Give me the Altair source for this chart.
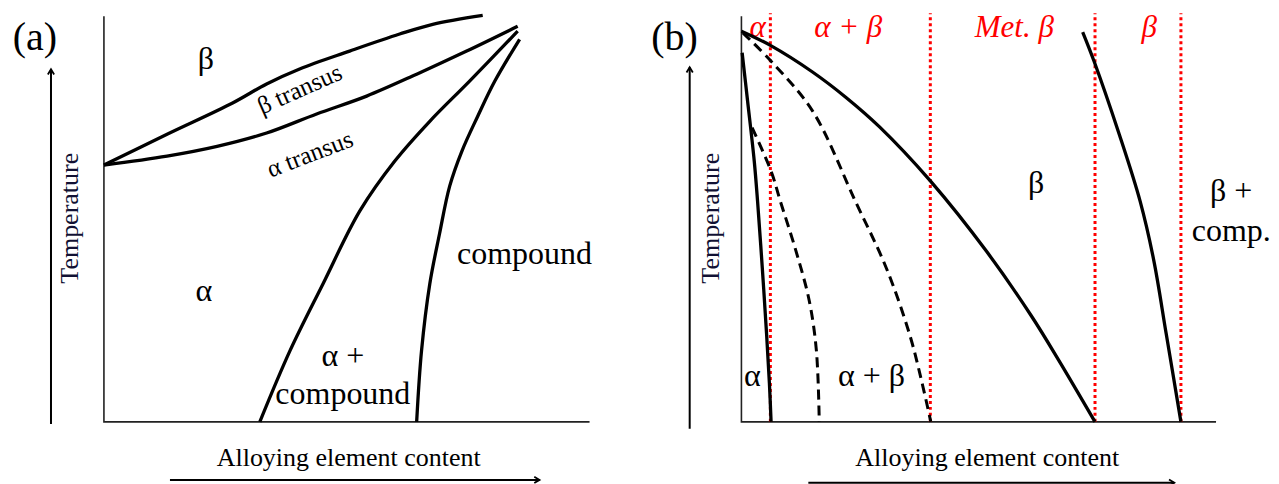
import altair as alt
import pandas as pd

FONT = "Liberation Serif"

# ---------------- Panel (a) data (content 0-100, temperature 0-100) ----------
a_beta_x = [0, 13.0, 26.5, 33.5, 40.3, 50.6, 60.9, 67.7, 78.0]
a_beta_t = [63.3, 70.9, 78.6, 83.3, 87.0, 91.4, 95.6, 98.0, 100.2]
a_alpha_x = [0, 13.0, 23.3, 33.5, 43.8, 54.1, 64.4, 74.7, 85.2]
a_alpha_t = [63.3, 65.5, 67.9, 71.2, 75.9, 80.3, 85.7, 91.4, 97.5]
a_solvus_x = [32.1, 38.3, 45.1, 52.7, 59.9, 67.1, 75.3, 85.2]
a_solvus_t = [0, 17.5, 34.0, 52.0, 64.3, 74.1, 84.0, 96.3]
a_comp_x = [64.4, 65.4, 67.1, 69.1, 71.2, 73.7, 77.0, 80.5, 85.6]
a_comp_t = [0, 17.5, 34.0, 46.3, 58.1, 66.7, 75.4, 84.0, 94.3]

a_labels = ["β", "α", "compound", "α +", "compound"]
a_label_x = [21.0, 20.6, 86.6, 49.2, 49.2]
a_label_t = [89.4, 32.3, 41.4, 16.3, 6.9]

# ---------------- Panel (b) data ---------------------------------------------
b_main_x = [0, 6.1, 14.9, 22.1, 29.1, 39.8, 51.6, 61.1, 66.9, 74.5]
b_main_t = [96.3, 92.8, 86.3, 79.9, 72.7, 59.4, 42.1, 26.1, 15.1, 0]
b_alpha_x = [0.15, 1.3, 2.7, 3.4, 4.4, 5.3, 5.9, 6.25]
b_alpha_t = [91.0, 79.1, 64.3, 54.4, 37.9, 21.7, 9.4, 0]
b_right_x = [71.9, 74.3, 79.6, 84.0, 86.9, 89.5, 92.6]
b_right_t = [96.1, 88.9, 70.9, 54.4, 39.7, 21.7, 0]
b_dash1_x = [2.25, 6.25, 8.2, 11.5, 14.3, 15.8, 16.4]
b_dash1_t = [72.5, 61.8, 54.4, 42.1, 29.8, 17.5, 0]
b_dash2_x = [0.3, 6.25, 15.0, 24.0, 30.5, 35.4, 38.1, 39.9]
b_dash2_t = [95.9, 88.9, 76.6, 54.4, 38.0, 21.7, 9.4, 0]

b_red_x = [6.1, 39.8, 74.5, 92.6]
b_red_labels = ["α", "α + β", "Met. β", "β"]
b_red_label_x = [3.4, 22.5, 57.5, 85.9]

b_labels = ["α", "α + β", "β", "β +", "comp."]
b_label_x = [2.3, 27.4, 62.1, 103.2, 103.2]
b_label_t = [11.3, 11.3, 58.9, 56.9, 47.0]


def curves_df(curves):
    rows = []
    for name, xs, ts in curves:
        for i, (x, t) in enumerate(zip(xs, ts)):
            rows.append({"curve": name, "x": x, "t": t, "i": i})
    return pd.DataFrame(rows)


def make_panel(xdom, tdom, solid, dashed, labels, panel_tag, tag_x,
               temp_arrow_x, temp_arrow_t, temp_title_x, alloy_arrow_t,
               alloy_arrow_x, alloy_title_x, extra_layers):
    X = lambda f="x": alt.X(f"{f}:Q", scale=alt.Scale(domain=xdom, nice=False, zero=False), axis=None)
    Y = lambda f="t": alt.Y(f"{f}:Q", scale=alt.Scale(domain=tdom, nice=False, zero=False), axis=None)

    frame = alt.Chart(pd.DataFrame({"x": [0, 0, 100], "t": [100, 0, 0], "i": [0, 1, 2]})).mark_line(
        color="#222222", strokeWidth=1.6).encode(x=X(), y=Y(), order="i:Q")

    layers = [frame]
    layers += extra_layers(X, Y)

    layers.append(alt.Chart(curves_df(solid)).mark_line(
        color="black", strokeWidth=3.3, interpolate="catmull-rom").encode(
        x=X(), y=Y(), detail="curve:N", order="i:Q"))
    if dashed:
        layers.append(alt.Chart(curves_df(dashed)).mark_line(
            color="black", strokeWidth=3, strokeDash=[10, 6], interpolate="catmull-rom").encode(
            x=X(), y=Y(), detail="curve:N", order="i:Q"))

    # arrows
    arrows = curves_df([
        ("temp", [temp_arrow_x, temp_arrow_x], temp_arrow_t),
        ("alloy", alloy_arrow_x, [alloy_arrow_t, alloy_arrow_t]),
    ])
    layers.append(alt.Chart(arrows).mark_line(color="black", strokeWidth=2).encode(
        x=X(), y=Y(), detail="curve:N", order="i:Q"))
    layers.append(alt.Chart(pd.DataFrame({"x": [temp_arrow_x], "t": [temp_arrow_t[1]]})).mark_point(
        shape="M -0.6 1 L 0 0 L 0.6 1", size=110, filled=False, color="black", strokeWidth=1.8, opacity=1
    ).encode(x=X(), y=Y()))
    layers.append(alt.Chart(pd.DataFrame({"x": [alloy_arrow_x[1]], "t": [alloy_arrow_t]})).mark_point(
        shape="M -1 -0.6 L 0 0 L -1 0.6", size=110, filled=False, color="black", strokeWidth=1.8, opacity=1
    ).encode(x=X(), y=Y()))

    # axis titles
    layers.append(alt.Chart(pd.DataFrame({"x": [temp_title_x], "t": [50.2], "s": ["Temperature"]})).mark_text(
        font=FONT, fontSize=26, angle=270, color="#111133", baseline="middle", align="center"
    ).encode(x=X(), y=Y(), text="s:N"))
    layers.append(alt.Chart(pd.DataFrame({"x": [alloy_title_x], "t": [-8.9], "s": ["Alloying element content"]})).mark_text(
        font=FONT, fontSize=26, color="black", baseline="middle", align="center"
    ).encode(x=X(), y=Y(), text="s:N"))

    # panel tag
    layers.append(alt.Chart(pd.DataFrame({"x": [tag_x], "t": [94.6], "s": [panel_tag]})).mark_text(
        font=FONT, fontSize=40, color="black", baseline="middle", align="center"
    ).encode(x=X(), y=Y(), text="s:N"))

    # region labels
    layers.append(alt.Chart(pd.DataFrame(labels)).mark_text(
        font=FONT, fontSize=32, color="black", baseline="middle", align="center"
    ).encode(x=X(), y=Y(), text="s:N"))

    return alt.layer(*layers).properties(width=631, height=476)


def extra_a(X, Y):
    return [
        alt.Chart(pd.DataFrame({"x": [40.3], "t": [82.0], "s": ["β transus"]})).mark_text(
            font=FONT, fontSize=25, angle=336, baseline="middle", align="center", color="black"
        ).encode(x=X(), y=Y(), text="s:N"),
        alt.Chart(pd.DataFrame({"x": [42.4], "t": [66.0], "s": ["α transus"]})).mark_text(
            font=FONT, fontSize=25, angle=339, baseline="middle", align="center", color="black"
        ).encode(x=X(), y=Y(), text="s:N"),
    ]


def extra_b(X, Y):
    red = pd.DataFrame({"x": b_red_x, "t0": [0] * len(b_red_x), "t1": [100.7] * len(b_red_x)})
    return [
        alt.Chart(red).mark_rule(color="#ff0000", strokeWidth=3, strokeDash=[3, 3]).encode(
            x=X(), y=Y("t0"), y2="t1:Q"),
        alt.Chart(pd.DataFrame({"x": b_red_label_x, "t": [97.2] * 4, "s": b_red_labels})).mark_text(
            font=FONT, fontSize=31, fontStyle="italic", color="#ff0000", baseline="middle", align="center"
        ).encode(x=X(), y=Y(), text="s:N"),
    ]


panel_a = make_panel(
    xdom=[-19.753, 110.082], tdom=[-15.517, 101.724],
    solid=[("beta", a_beta_x, a_beta_t), ("alpha", a_alpha_x, a_alpha_t),
           ("solvus", a_solvus_x, a_solvus_t), ("comp", a_comp_x, a_comp_t)],
    dashed=None,
    labels={"x": a_label_x, "t": a_label_t, "s": a_labels},
    panel_tag="(a)", tag_x=-14.2,
    temp_arrow_x=-10.9, temp_arrow_t=[-0.5, 86.9], temp_title_x=-7.0,
    alloy_arrow_t=-14.3, alloy_arrow_x=[13.6, 89.7], alloy_title_x=50.4,
    extra_layers=extra_a,
)

panel_b = make_panel(
    xdom=[-21.474, 111.368], tdom=[-15.517, 101.724],
    solid=[("main", b_main_x, b_main_t), ("alpha", b_alpha_x, b_alpha_t),
           ("right", b_right_x, b_right_t)],
    dashed=[("d1", b_dash1_x, b_dash1_t), ("d2", b_dash2_x, b_dash2_t)],
    labels={"x": b_label_x, "t": b_label_t, "s": b_labels},
    panel_tag="(b)", tag_x=-14.1,
    temp_arrow_x=-10.9, temp_arrow_t=[-1.7, 87.4], temp_title_x=-6.5,
    alloy_arrow_t=-15.0, alloy_arrow_x=[14.1, 91.2], alloy_title_x=51.8,
    extra_layers=extra_b,
)

chart = alt.hconcat(panel_a, panel_b, spacing=1).properties(
    padding=0, background="white"
).configure_view(stroke=None)

chart.save("out.html", embed_options={"renderer": "svg", "actions": False})
